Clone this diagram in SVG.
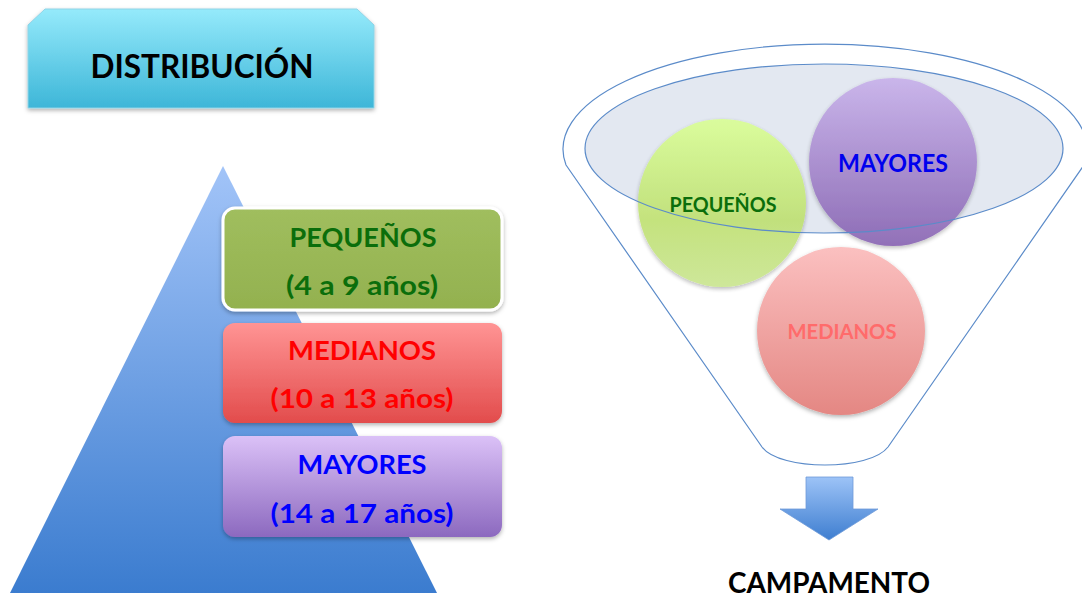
<svg xmlns="http://www.w3.org/2000/svg" width="1082" height="598" viewBox="0 0 1082 598">
<style>
.t{font-family:Lato,"Open Sans","Liberation Sans",sans-serif;font-weight:bold;text-anchor:middle}
</style>
<defs>
<linearGradient id="gTitle" x1="0" y1="0" x2="0" y2="1"><stop offset="0" stop-color="#95EAFB"/><stop offset="1" stop-color="#3DB6D8"/></linearGradient>
<linearGradient id="gPyr" x1="0" y1="0" x2="0" y2="1"><stop offset="0" stop-color="#A2C4F8"/><stop offset="1" stop-color="#3B7CCF"/></linearGradient>
<linearGradient id="gGreen" x1="0" y1="0" x2="0" y2="1"><stop offset="0" stop-color="#A0BE5E"/><stop offset="1" stop-color="#93B14F"/></linearGradient>
<linearGradient id="gRed" x1="0" y1="0" x2="0" y2="1"><stop offset="0" stop-color="#FF9494"/><stop offset="1" stop-color="#E24C4C"/></linearGradient>
<linearGradient id="gPurple" x1="0" y1="0" x2="0" y2="1"><stop offset="0" stop-color="#DBC1F7"/><stop offset="1" stop-color="#8C69BF"/></linearGradient>
<linearGradient id="cGreen" x1="0" y1="0" x2="0" y2="1"><stop offset="0" stop-color="#DAFF94"/><stop offset="0.6" stop-color="#BEE070"/><stop offset="1" stop-color="#C9E58F"/></linearGradient>
<linearGradient id="cPurple" x1="0" y1="0" x2="0" y2="1"><stop offset="0" stop-color="#C6ADEA"/><stop offset="1" stop-color="#7F58AC"/></linearGradient>
<linearGradient id="cPink" x1="0" y1="0" x2="0" y2="1"><stop offset="0" stop-color="#FBC0C0"/><stop offset="1" stop-color="#E48783"/></linearGradient>
<linearGradient id="gArrow" x1="0" y1="0" x2="0" y2="1"><stop offset="0" stop-color="#9DC3F7"/><stop offset="1" stop-color="#3E7ED0"/></linearGradient>
<filter id="sh" x="-10%" y="-10%" width="120%" height="130%"><feDropShadow dx="0" dy="2" stdDeviation="2" flood-color="#000" flood-opacity="0.3"/></filter>
</defs>

<g id="title">
<path d="M45,9 L357,9 L374,25 L374,108 L28,108 L28,25 Z" fill="url(#gTitle)" stroke="#8FD3E6" stroke-width="1" filter="url(#sh)"/>
<text class="t" x="202" y="78" font-size="32" fill="#000" textLength="223" lengthAdjust="spacingAndGlyphs">DISTRIBUCIÓN</text>
</g>

<g id="pyramid">
<polygon points="223,166 437,593 10,593" fill="url(#gPyr)"/>
</g>

<g id="pequenos">
<rect x="223" y="208" width="279" height="102" rx="12" fill="url(#gGreen)" stroke="#FFFFFF" stroke-width="3" filter="url(#sh)"/>
<text class="t" x="363" y="247" font-size="26" fill="#0B6E0B" textLength="147" lengthAdjust="spacingAndGlyphs">PEQUEÑOS</text>
<text class="t" x="362" y="295" font-size="26" fill="#0B6E0B" textLength="152" lengthAdjust="spacingAndGlyphs">(4 a 9 años)</text>
</g>

<g id="medianos">
<rect x="223" y="323" width="279" height="100" rx="12" fill="url(#gRed)" filter="url(#sh)"/>
<text class="t" x="362" y="360" font-size="26" fill="#FF0000" textLength="148" lengthAdjust="spacingAndGlyphs">MEDIANOS</text>
<text class="t" x="362" y="408" font-size="26" fill="#FF0000" textLength="183" lengthAdjust="spacingAndGlyphs">(10 a 13 años)</text>
</g>

<g id="mayores">
<rect x="223" y="436" width="279" height="101" rx="12" fill="url(#gPurple)" filter="url(#sh)"/>
<text class="t" x="362" y="474" font-size="26" fill="#0000FF" textLength="129" lengthAdjust="spacingAndGlyphs">MAYORES</text>
<text class="t" x="362" y="523" font-size="26" fill="#0000FF" textLength="183" lengthAdjust="spacingAndGlyphs">(14 a 17 años)</text>
</g>

<g id="funnel">
<path d="M566,165 L762,447 C780,471 870,471 888,447 L1084,165 A262,105 0 1 0 566,165 Z" fill="#FFFFFF" stroke="#5B8BC9" stroke-width="1.2"/>
<ellipse cx="824" cy="148.5" rx="239" ry="84.5" fill="#E3E8F1"/>
</g>

<g id="c-pequenos">
<circle cx="722" cy="203" r="84" fill="url(#cGreen)" opacity="0.9" filter="url(#sh)"/>
<text class="t" x="723" y="212" font-size="20" fill="#0B6E0B" textLength="107" lengthAdjust="spacingAndGlyphs">PEQUEÑOS</text>
</g>
<g id="c-mayores">
<circle cx="893" cy="162" r="84" fill="url(#cPurple)" opacity="0.85" filter="url(#sh)"/>
<text class="t" x="893" y="172" font-size="24" fill="#0000EE" textLength="110" lengthAdjust="spacingAndGlyphs">MAYORES</text>
</g>
<g id="c-medianos">
<circle cx="841" cy="331" r="84" fill="url(#cPink)" filter="url(#sh)"/>
<text class="t" x="842" y="339" font-size="21" fill="#FF6B6B" textLength="109" lengthAdjust="spacingAndGlyphs">MEDIANOS</text>
</g>

<g id="connectors">
<ellipse cx="824" cy="148.5" rx="239" ry="84.5" fill="none" stroke="#5B8BC9" stroke-width="1.2"/>
<path d="M806,477 L853,477 L853,509 L878,509 L829,540 L780,509 L806,509 Z" fill="url(#gArrow)" stroke="#6E9BD8" stroke-width="0.8"/>
</g>

<g id="campamento">
<text class="t" x="829" y="593" font-size="29" fill="#000" textLength="202" lengthAdjust="spacingAndGlyphs">CAMPAMENTO</text>
</g>
</svg>
